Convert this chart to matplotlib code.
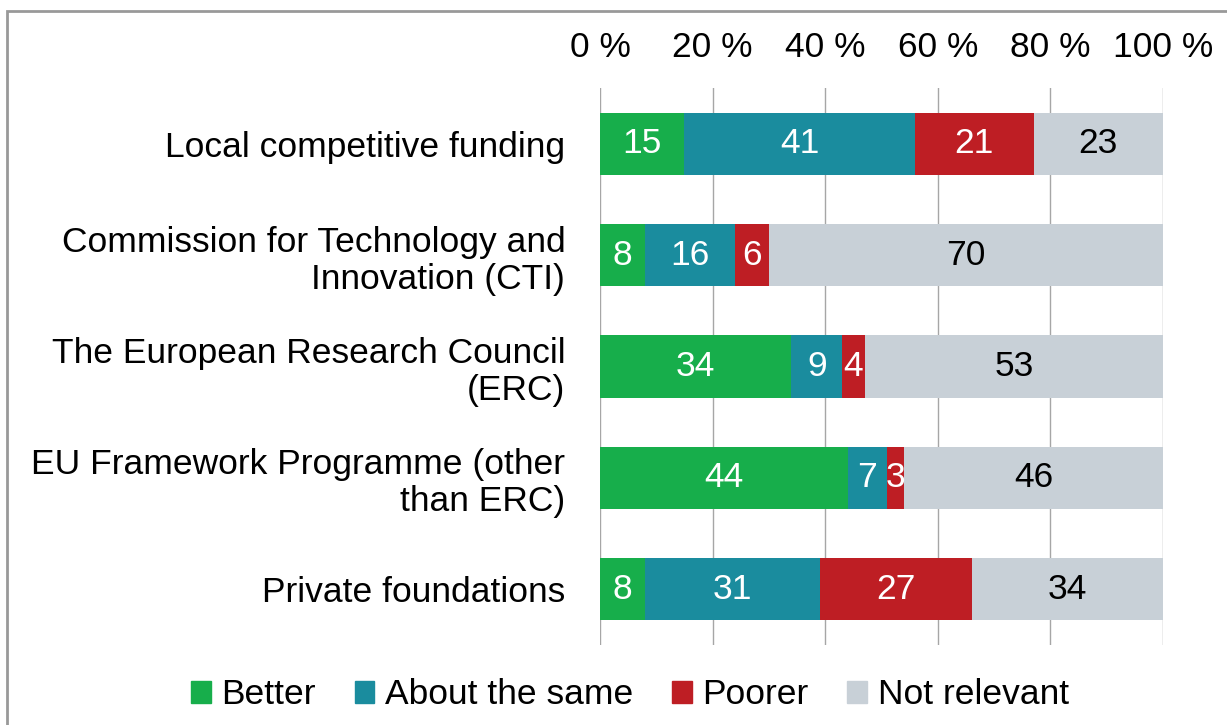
import numpy as np
import matplotlib
matplotlib.use("Agg")
import matplotlib.pyplot as plt
from matplotlib.patches import Rectangle, Patch

plt.rcParams['font.family'] = ['Liberation Sans', 'DejaVu Sans']

categories = ["Local competitive funding",
              "Commission for Technology and\nInnovation (CTI)",
              "The European Research Council\n(ERC)",
              "EU Framework Programme (other\nthan ERC)",
              "Private foundations"]
series = ["Better", "About the same", "Poorer", "Not relevant"]
better = [15, 8, 34, 44, 8]
same = [41, 16, 9, 7, 31]
poorer = [21, 6, 4, 3, 27]
not_relevant = [23, 70, 53, 46, 34]
xticks = [0, 20, 40, 60, 80, 100]

colors = ["#17AE4B", "#1A8C9E", "#BE1E24", "#C8D0D7"]
text_colors = ["white", "white", "white", "black"]
FS = 25.5

fig = plt.figure(figsize=(12.27, 7.25), dpi=100)
ax = fig.add_axes([600/1227, 1-645/725, 563/1227, (645-88)/725])

y = np.arange(len(categories))
left = np.zeros(len(categories))
for vals, col, tc, name in zip([better, same, poorer, not_relevant], colors, text_colors, series):
    vals = np.array(vals, dtype=float)
    ax.barh(y, vals, left=left, height=0.56, color=col, label=name, zorder=2)
    for yi, l, v in zip(y, left, vals):
        ax.text(l + v/2, yi, f"{int(v)}", ha="center", va="center", color=tc, fontsize=FS, zorder=3)
    left += vals

ax.set_xlim(0, 100)
ax.set_ylim(4.5, -0.5)
ax.set_yticks(y)
ax.set_yticklabels(categories, fontsize=FS, linespacing=1.15)
ax.xaxis.tick_top()
ax.set_xticks(xticks)
ax.set_xticklabels([f"{t} %" for t in xticks], fontsize=FS)
ax.tick_params(axis="x", length=0, pad=17)
ax.tick_params(axis="y", length=0, pad=25)
ax.grid(axis="x", color="#A6A6A6", lw=1, zorder=0)
for s in ax.spines.values():
    s.set_visible(False)

handles = [Patch(color=c, label=n) for c, n in zip(colors, series)]
fig.legend(handles=handles, loc="center", bbox_to_anchor=(630/1227, 1-695/725), ncol=4,
           frameon=False, fontsize=FS, handlelength=0.55, handleheight=0.55,
           handletextpad=0.3, columnspacing=1.1)

fig.patches.append(Rectangle((7/1227, -0.05), 1.1, 1-11/725+0.05, transform=fig.transFigure,
                             fill=False, edgecolor="#999999", lw=2))

fig.savefig("out.png", dpi=100)
